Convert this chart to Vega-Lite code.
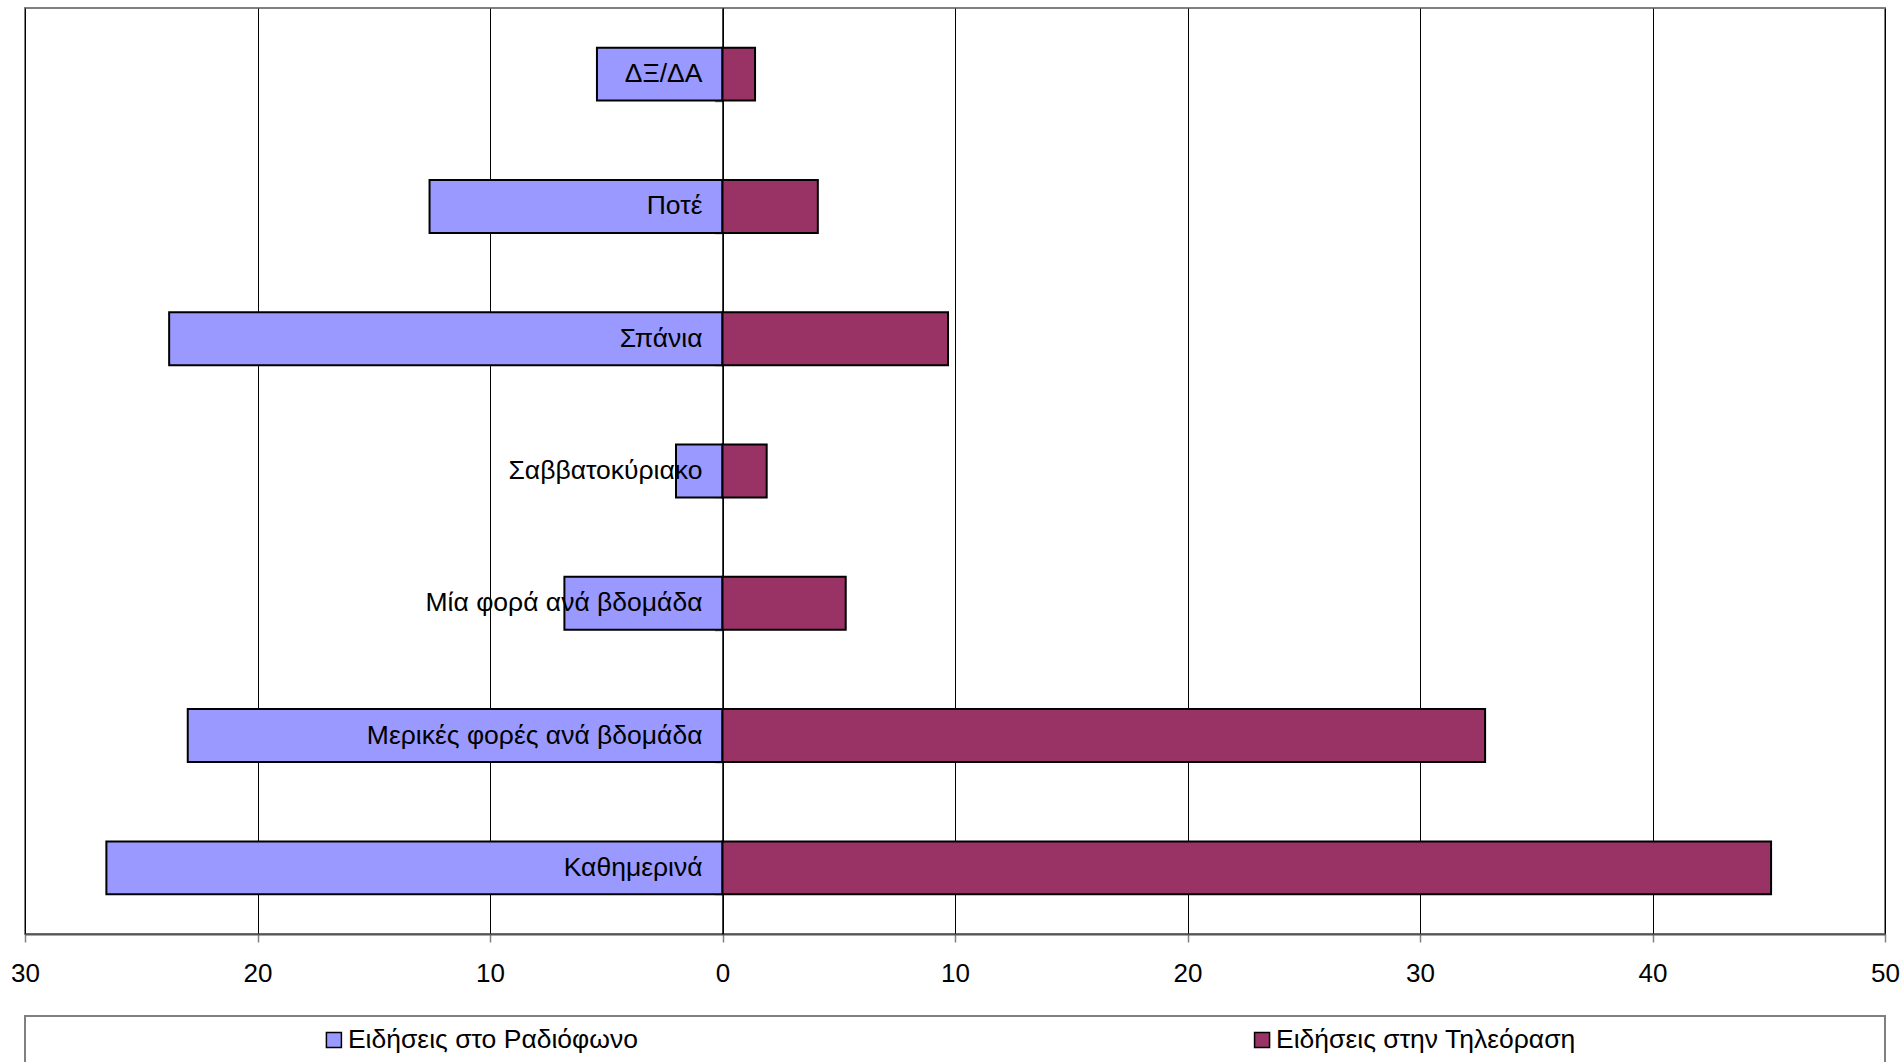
{
  "$schema": "https://vega.github.io/schema/vega-lite/v6.json",
  "padding": {"left": 9, "top": 7, "right": 0, "bottom": 0},
  "bounds": "flush",
  "spacing": 82,
  "resolve": {"scale": {"x": "independent", "y": "independent"}},
  "config": {
    "font": "Liberation Sans",
    "view": {"stroke": "#808080", "strokeWidth": 2},
    "background": "white"
  },
  "datasets": {
    "survey": [
      {"category": "ΔΞ/ΔΑ", "series": "Ειδήσεις στο Ραδιόφωνο", "value": -5.4},
      {"category": "ΔΞ/ΔΑ", "series": "Ειδήσεις στην Τηλεόραση", "value": 1.4},
      {"category": "Ποτέ", "series": "Ειδήσεις στο Ραδιόφωνο", "value": -12.6},
      {"category": "Ποτέ", "series": "Ειδήσεις στην Τηλεόραση", "value": 4.1},
      {"category": "Σπάνια", "series": "Ειδήσεις στο Ραδιόφωνο", "value": -23.8},
      {"category": "Σπάνια", "series": "Ειδήσεις στην Τηλεόραση", "value": 9.7},
      {"category": "Σαββατοκύριακο", "series": "Ειδήσεις στο Ραδιόφωνο", "value": -2.0},
      {"category": "Σαββατοκύριακο", "series": "Ειδήσεις στην Τηλεόραση", "value": 1.9},
      {"category": "Μία φορά ανά βδομάδα", "series": "Ειδήσεις στο Ραδιόφωνο", "value": -6.8},
      {"category": "Μία φορά ανά βδομάδα", "series": "Ειδήσεις στην Τηλεόραση", "value": 5.3},
      {"category": "Μερικές φορές ανά βδομάδα", "series": "Ειδήσεις στο Ραδιόφωνο", "value": -23.0},
      {"category": "Μερικές φορές ανά βδομάδα", "series": "Ειδήσεις στην Τηλεόραση", "value": 32.8},
      {"category": "Καθημερινά", "series": "Ειδήσεις στο Ραδιόφωνο", "value": -26.5},
      {"category": "Καθημερινά", "series": "Ειδήσεις στην Τηλεόραση", "value": 45.1}
    ],
    "legendItems": [
      {"series": "Ειδήσεις στο Ραδιόφωνο"},
      {"series": "Ειδήσεις στην Τηλεόραση"}
    ]
  },
  "vconcat": [
    {
      "width": 1860,
      "height": 926,
      "data": {"name": "survey"},
      "layer": [
        {
          "mark": {"type": "bar", "stroke": "black", "strokeWidth": 2},
          "encoding": {
            "y": {
              "field": "category", "type": "nominal",
              "sort": ["ΔΞ/ΔΑ", "Ποτέ", "Σπάνια", "Σαββατοκύριακο", "Μία φορά ανά βδομάδα", "Μερικές φορές ανά βδομάδα", "Καθημερινά"],
              "scale": {"paddingInner": 0.6, "paddingOuter": 0.3},
              "axis": {"title": null, "labels": false, "grid": false, "domainColor": "black", "domainWidth": 1.5, "tickColor": "#808080", "tickSize": 8, "tickWidth": 1.5, "tickBand": "extent", "offset": -697.5}
            },
            "x": {
              "field": "value", "type": "quantitative",
              "scale": {"domain": [-30, 50], "nice": false},
              "axis": {"title": null, "values": [-30, -20, -10, 0, 10, 20, 30, 40, 50], "labelExpr": "abs(datum.value)", "grid": true, "gridColor": "black", "gridWidth": 1, "gridOpacity": 1, "domainColor": "#555555", "domainWidth": 2, "tickColor": "#808080", "tickSize": 8, "tickWidth": 1.5, "labelFontSize": 26, "labelColor": "black", "labelPadding": 18, "labelFlush": false, "labelOverlap": false}
            },
            "color": {
              "field": "series", "type": "nominal",
              "scale": {"domain": ["Ειδήσεις στο Ραδιόφωνο", "Ειδήσεις στην Τηλεόραση"], "range": ["#9999FF", "#993366"]},
              "legend": null
            }
          }
        },
        {
          "transform": [{"filter": "datum.series === 'Ειδήσεις στο Ραδιόφωνο'"}],
          "mark": {"type": "text", "align": "right", "baseline": "middle", "dx": -20, "fontSize": 26.5, "color": "black"},
          "encoding": {
            "y": {"field": "category", "type": "nominal", "sort": ["ΔΞ/ΔΑ", "Ποτέ", "Σπάνια", "Σαββατοκύριακο", "Μία φορά ανά βδομάδα", "Μερικές φορές ανά βδομάδα", "Καθημερινά"]},
            "x": {"datum": 0},
            "text": {"field": "category"}
          }
        }
      ]
    },
    {
      "width": 1860,
      "height": 48,
      "data": {"name": "legendItems"},
      "layer": [
        {
          "mark": {"type": "square", "size": 225, "filled": true, "opacity": 1, "stroke": "black", "strokeWidth": 1.5},
          "encoding": {
            "x": {"field": "series", "type": "nominal", "sort": null, "scale": {"type": "point", "padding": 0.502, "align": 0.3315}, "axis": null},
            "color": {"field": "series", "type": "nominal", "legend": null}
          }
        },
        {
          "mark": {"type": "text", "align": "left", "baseline": "middle", "dx": 14, "fontSize": 26.5, "color": "black"},
          "encoding": {
            "x": {"field": "series", "type": "nominal", "sort": null, "scale": {"type": "point", "padding": 0.502, "align": 0.3315}, "axis": null},
            "text": {"field": "series"}
          }
        }
      ]
    }
  ]
}
